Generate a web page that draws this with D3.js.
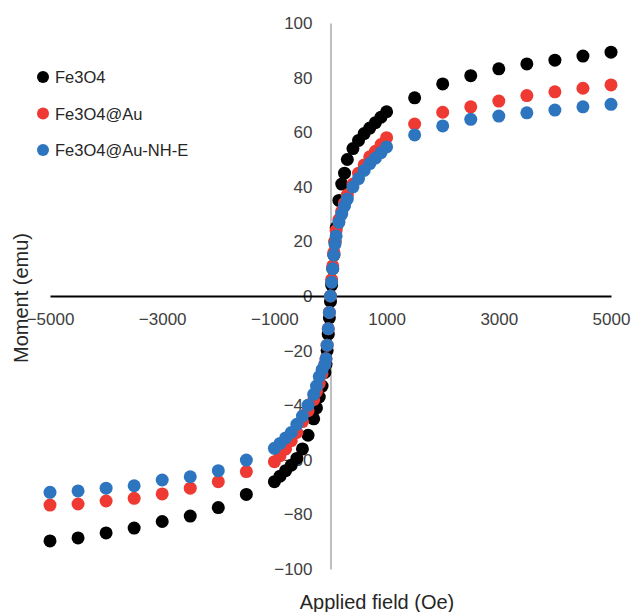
<!DOCTYPE html>
<html>
<head>
<meta charset="utf-8">
<script src="https://cdn.jsdelivr.net/npm/d3@7"></script>
<style>
  html, body { margin: 0; padding: 0; background: #fff; }
  svg { display: block; font-family: "Liberation Sans", Arial, sans-serif; }
</style>
</head>
<body>
<svg id="chart" width="634" height="612"></svg>
<script>
// ---- data ----
const fields = [-5000,-4500,-4000,-3500,-3000,-2500,-2000,-1500,
  -1000,-900,-800,-700,-600,-500,-400,-300,
  -250,-200,-150,-100,
  -80,-60,-40,-20,0,20,40,60,80,
  100,150,200,250,
  300,400,500,600,700,800,900,1000,
  1500,2000,2500,3000,3500,4000,4500,5000];

const fe3o4 = [-89.7,-88.6,-86.8,-85.0,-82.6,-80.6,-77.5,-72.7,
  -68.0,-66.0,-64.0,-62.0,-59.5,-56.0,-51.0,-45.0,
  -41,-37,-33,-28,
  -25,-20,-14,-8,-2,4,10,15,20,
  25,35,41,45,
  50,54,57,59.5,61.5,63.5,65.5,67.5,
  72.6,77.7,80.7,83.2,85.0,86.4,87.9,89.3];

const fe3o4Au = [-76.6,-76.2,-75.1,-74.1,-72.5,-70.4,-68.0,-64.3,
  -60.7,-58.5,-56,-53,-50,-46,-42,-38,
  -35,-32,-28.5,-25,
  -23,-18,-12,-6,0,6,11,16,20,
  24,28,31,34,
  37,41,45,48,51,53,55.5,58,
  63.0,67.3,69.3,71.4,73.4,74.8,76.1,77.3];

const fe3o4AuNHE = [-71.9,-71.4,-70.4,-69.5,-67.4,-66.2,-64.0,-60.1,
  -55.8,-54,-52,-50,-47,-44,-40,-36,
  -33,-29.5,-27,-25,
  -23,-18,-12,-6,0,5,10,15,19,
  22,27,30,33,
  35.5,40,43,46,48.5,50.5,52.5,54.6,
  59.0,62.3,64.7,65.9,67.1,68.1,69.3,70.2];

const seriesNames = ["Fe3O4", "Fe3O4@Au", "Fe3O4@Au-NH-E"];
const seriesColors = ["#000000", "#ee3a33", "#2e75c0"];
const xTicks = [-5000, -3000, -1000, 1000, 3000, 5000];
const yTicks = [-100, -80, -60, -40, -20, 0, 20, 40, 60, 80, 100];
const xTitle = "Applied field (Oe)";
const yTitle = "Moment (emu)";

// ---- drawing ----
const svg = d3.select("#chart");
const x = d3.scaleLinear().domain([-5000, 5000]).range([50, 611]);
const y = d3.scaleLinear().domain([-100, 100]).range([569, 23]);

// y axis (gray vertical line at x = 0)
const yAxis = svg.append("g")
  .attr("transform", `translate(${x(0)},0)`)
  .call(d3.axisLeft(y).tickValues(yTicks).tickSize(0).tickPadding(18).tickFormat(d3.format("d")));
yAxis.select(".domain").attr("stroke", "#bfbfbf").attr("stroke-width", 2);
yAxis.selectAll("text").attr("font-size", 17).attr("fill", "#404040")
  .attr("font-family", '"Liberation Sans", Arial, sans-serif');

// x axis (black horizontal line at y = 0)
const xAxis = svg.append("g")
  .attr("transform", `translate(0,${y(0)})`)
  .call(d3.axisBottom(x).tickValues(xTicks).tickSize(0).tickPadding(17).tickFormat(d3.format("d")));
xAxis.select(".domain").attr("stroke", "#000").attr("stroke-width", 2);
xAxis.selectAll("text").attr("font-size", 17).attr("fill", "#404040")
  .attr("font-family", '"Liberation Sans", Arial, sans-serif');

// points
const seriesData = [fe3o4, fe3o4Au, fe3o4AuNHE];
seriesData.forEach((vals, si) => {
  svg.append("g").selectAll("circle")
    .data(fields.map((f, i) => ({ f, v: vals[i] })))
    .join("circle")
    .attr("cx", d => x(d.f))
    .attr("cy", d => y(d.v))
    .attr("r", 6.5)
    .attr("fill", seriesColors[si]);
});

// legend
const legend = svg.append("g");
seriesNames.forEach((name, i) => {
  const cy = 77 + i * 36.5;
  legend.append("circle").attr("cx", 43).attr("cy", cy).attr("r", 6).attr("fill", seriesColors[i]);
  legend.append("text").attr("x", 55).attr("y", cy + 6).attr("font-size", 16.5)
    .attr("fill", "#262626").text(name);
});

// axis titles
svg.append("text").attr("x", 377).attr("y", 609).attr("text-anchor", "middle")
  .attr("font-size", 20).attr("fill", "#262626").text(xTitle);
svg.append("text").attr("transform", "translate(28,298) rotate(-90)")
  .attr("text-anchor", "middle").attr("font-size", 20).attr("fill", "#262626").text(yTitle);
</script>
</body>
</html>
